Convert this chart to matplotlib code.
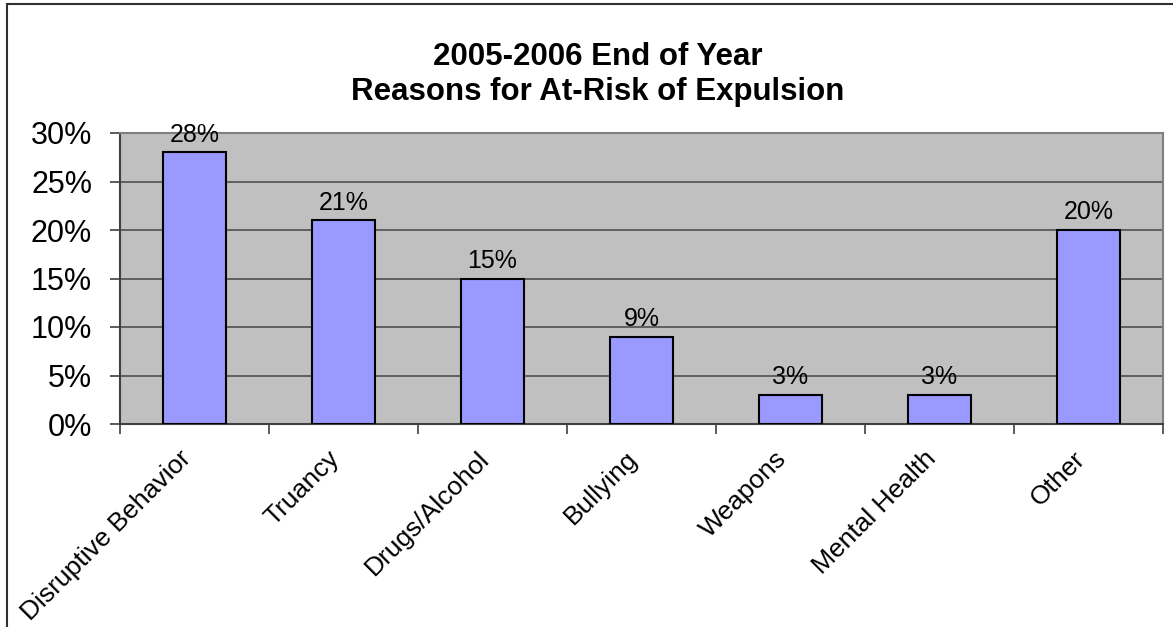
import matplotlib
matplotlib.use('Agg')
import matplotlib.pyplot as plt
from matplotlib.patches import Rectangle
from matplotlib.ticker import FuncFormatter, FixedLocator
from matplotlib.transforms import ScaledTranslation

plt.rcParams['font.family'] = ['Liberation Sans', 'DejaVu Sans']

# data
categories = ['Disruptive Behavior', 'Truancy', 'Drugs/Alcohol', 'Bullying',
              'Weapons', 'Mental Health', 'Other']
shares = [0.28, 0.21, 0.15, 0.09, 0.03, 0.03, 0.20]
bar_labels = ['28%', '21%', '15%', '9%', '3%', '3%', '20%']
y_ticks = [0.0, 0.05, 0.10, 0.15, 0.20, 0.25, 0.30]

W, H = 1173, 627
fig = plt.figure(figsize=(W / 100, H / 100), dpi=100)
fig.patch.set_facecolor('white')

# outer chart border (cut off at right and bottom like the original)
fig.patches.append(Rectangle((7 / W, -0.2), 1.2, 1.2 - 4 / H, transform=fig.transFigure,
                             fill=False, edgecolor='#303030', linewidth=1.5, clip_on=False))

ax = fig.add_axes([120 / W, 1 - 424 / H, (1163 - 120) / W, (424 - 133) / H])
ax.set_facecolor('#C0C0C0')

x = list(range(len(categories)))
ax.bar(x, shares, width=0.42, color='#9999FF', edgecolor='black', linewidth=1.5, zorder=3)

for xi, v, lab in zip(x, shares, bar_labels):
    ax.annotate(lab, (xi, v), xytext=(0, 4), textcoords='offset points',
                ha='center', va='bottom', fontsize=18, zorder=4)

ax.set_xlim(-0.5, len(categories) - 0.5)
ax.set_ylim(0, 0.30)
ax.set_yticks(y_ticks)
ax.yaxis.set_major_formatter(FuncFormatter(lambda v, p: f'{v * 100:.0f}%'))
ax.yaxis.grid(True, color='#505050', linewidth=1.2, zorder=0)
ax.set_axisbelow(True)

# tick marks at category boundaries, labels at category centres
ax.xaxis.set_major_locator(FixedLocator([i - 0.5 for i in range(len(categories) + 1)]))
ax.xaxis.set_major_formatter(FuncFormatter(lambda v, p: ''))
ax.xaxis.set_minor_locator(FixedLocator(x))
ax.set_xticklabels(categories, minor=True)
ax.tick_params(axis='x', which='major', length=7, width=1.2, color='#404040', direction='out')
ax.tick_params(axis='x', which='minor', length=0, pad=21, labelsize=19)
ax.tick_params(axis='y', length=7, width=1.2, color='#404040', direction='out',
               labelsize=22, pad=13)
shift = ScaledTranslation(-9 / 100, 0, fig.dpi_scale_trans)
for lbl in ax.get_xticklabels(minor=True):
    lbl.set_rotation(45)
    lbl.set_ha('right')
    lbl.set_va('center_baseline')
    lbl.set_rotation_mode('anchor')
    lbl.set_transform(lbl.get_transform() + shift)

for side in ['left', 'bottom']:
    ax.spines[side].set_color('#404040')
    ax.spines[side].set_linewidth(1.5)
for side in ['top', 'right']:
    ax.spines[side].set_color('#808080')
    ax.spines[side].set_linewidth(1.5)

fig.text(598 / W, 1 - 100 / H, '2005-2006 End of Year\nReasons for At-Risk of Expulsion',
         ha='center', va='baseline', fontsize=22.5, fontweight='bold', linespacing=1.2)

fig.savefig('out.png', dpi=100)
